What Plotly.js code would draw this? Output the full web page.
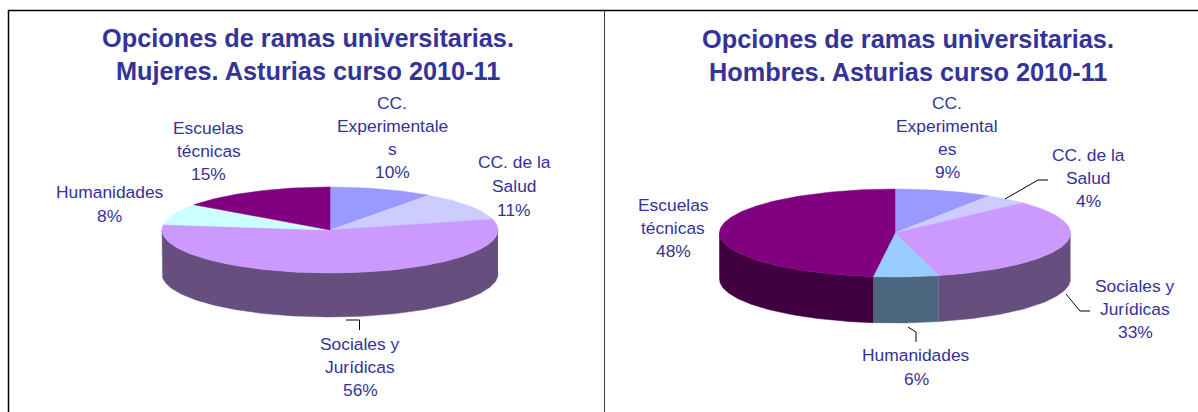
<!DOCTYPE html>
<html>
<head>
<meta charset="utf-8">
<script src="https://cdn.plot.ly/plotly-3.0.1.min.js"></script>
<style>html,body{margin:0;padding:0;background:#fff}#chart{width:1198px;height:412px}</style>
</head>
<body>
<div id="chart"></div>
<script>
// Data
const categories = ["CC. Experimentales", "CC. de la Salud", "Sociales y Jurídicas", "Humanidades", "Escuelas técnicas"];
const mujeres = [10, 11, 56, 8, 15];
const hombres = [9, 4, 33, 6, 48];
const tituloMujeres = ["Opciones de ramas universitarias.", "Mujeres. Asturias curso 2010-11"];
const tituloHombres = ["Opciones de ramas universitarias.", "Hombres. Asturias curso 2010-11"];
const etiquetasMujeres = [["CC.", "Experimentale", "s", "10%"], ["CC. de la", "Salud", "11%"], ["Sociales y", "Jurídicas", "56%"], ["Humanidades", "8%"], ["Escuelas", "técnicas", "15%"]];
const etiquetasHombres = [["CC.", "Experimental", "es", "9%"], ["CC. de la", "Salud", "4%"], ["Sociales y", "Jurídicas", "33%"], ["Humanidades", "6%"], ["Escuelas", "técnicas", "48%"]];

// Styles
const coloresMujeres = ["#9999FF", "#CCCCFF", "#CC99FF", "#CCFFFF", "#800080"];
const coloresHombres = ["#9999FF", "#CCCCFF", "#CC99FF", "#99CCFF", "#800080"];
const paredMujeres = ["#4D4D7F", "#66667F", "#664E7F", "#667F7F", "#400040"];
const paredHombres = ["#4D4D7F", "#66667F", "#664E7F", "#4D667F", "#400040"];
const TEXT = "#333399";
const FONT = "Liberation Sans, Arial, sans-serif";

// Panel layouts
const panelL = {xa:"x", ya:"y", cx:330, cy:230, rx:168, ry:43, t:44,
  titleX:308, titleY:[38,71],
  labels:[[392,[103,126,149,172]],[514,[162,186,210]],[360,[344,367,390]],[109.5,[192,216]],[208.5,[128,151,174]]],
  leaders:[[[346,359.5,359.5],[320,320,330]]]};
const panelR = {xa:"x2", ya:"y2", cx:895, cy:233, rx:175.5, ry:44, t:46,
  titleX:907.5, titleY:[39,72],
  labels:[[947,[103,126,149,172]],[1088,[155,178,201]],[1135,[286,309,332]],[916,[355,379]],[673,[205,228,251]]],
  leaders:[[[1005,1038,1048],[199,180,180]],[[1066,1080,1090],[294,311,311]],[[908,916,916],[327,332,342]]]};

const traces = [], annotations = [];

function addPie(p, values, colors, walls, labels, title) {
  const total = values.reduce((a,b)=>a+b,0);
  const px = d => p.cx + p.rx*Math.sin(d*Math.PI/180);
  const py = d => p.cy - p.ry*Math.cos(d*Math.PI/180);
  const arc = (a,b) => { const n=Math.max(2,Math.ceil(Math.abs(b-a))+1), o=[];
    for(let i=0;i<n;i++) o.push(a+(b-a)*i/(n-1)); return o; };
  const base = {type:"scatter", mode:"lines", fill:"toself", hoverinfo:"name", showlegend:false, xaxis:p.xa, yaxis:p.ya};
  const spans = []; let acc = 0;
  values.forEach(v => { spans.push([acc/total*360,(acc+v)/total*360]); acc+=v; });
  // side walls: only the front half of the disc is visible
  spans.forEach((s,i) => {
    const a=Math.max(s[0],90), b=Math.min(s[1],270);
    if(b<=a) return;
    const top=arc(a,b), bot=arc(b,a);
    traces.push(Object.assign({},base,{name:categories[i],
      x:top.map(px).concat(bot.map(px)),
      y:top.map(py).concat(bot.map(d=>py(d)+p.t)),
      fillcolor:walls[i], line:{color:walls[i],width:0.5}}));
  });
  // top faces
  spans.forEach((s,i) => {
    const top=arc(s[0],s[1]);
    traces.push(Object.assign({},base,{name:categories[i],
      x:[p.cx].concat(top.map(px),[p.cx]),
      y:[p.cy].concat(top.map(py),[p.cy]),
      fillcolor:colors[i], line:{color:colors[i],width:0.5}}));
  });
  // leader lines
  p.leaders.forEach(l => traces.push({type:"scatter",mode:"lines",x:l[0],y:l[1],hoverinfo:"skip",showlegend:false,
    xaxis:p.xa,yaxis:p.ya,line:{color:"#000",width:1}}));
  // text
  const ann=(x,y,text,size,bold)=>annotations.push({xref:p.xa,yref:p.ya,x,y,text:bold?"<b>"+text+"</b>":text,showarrow:false,
    xanchor:"center",yanchor:"middle",font:{family:FONT,size,color:TEXT}});
  title.forEach((t,i)=>ann(p.titleX,p.titleY[i],t,25.3,true));
  labels.forEach((lines,i)=>lines.forEach((t,j)=>ann(p.labels[i][0],p.labels[i][1][j],t,17.4,false)));
}
addPie(panelL,mujeres,coloresMujeres,paredMujeres,etiquetasMujeres,tituloMujeres);
addPie(panelR,hombres,coloresHombres,paredHombres,etiquetasHombres,tituloHombres);

const hidden = {visible:false, fixedrange:true};
const layout = {
  width:1198, height:412, margin:{l:0,r:0,t:0,b:0}, paper_bgcolor:"#fff", plot_bgcolor:"#fff", showlegend:false,
  xaxis:Object.assign({},hidden,{domain:[0,604/1198],range:[0,604]}),
  yaxis:Object.assign({},hidden,{domain:[0,1],range:[412,0]}),
  xaxis2:Object.assign({},hidden,{domain:[604/1198,1],range:[604,1198],anchor:"y2"}),
  yaxis2:Object.assign({},hidden,{domain:[0,1],range:[412,0],anchor:"x2"}),
  annotations,
  shapes:[
    {type:"line",xref:"x",yref:"y",x0:8.5,x1:8.5,y0:10,y1:412,line:{color:"#000",width:1.5}},
    {type:"line",xref:"x",yref:"y",x0:8,x1:604,y0:10.5,y1:10.5,line:{color:"#000",width:1.5}},
    {type:"line",xref:"x2",yref:"y2",x0:604,x1:1198,y0:10.5,y1:10.5,line:{color:"#000",width:1.5}},
    {type:"line",xref:"x2",yref:"y2",x0:604,x1:604,y0:10,y1:412,line:{color:"#000",width:1.5}}
  ]
};
Plotly.newPlot("chart",traces,layout,{displayModeBar:false,staticPlot:true});
</script>
</body>
</html>
